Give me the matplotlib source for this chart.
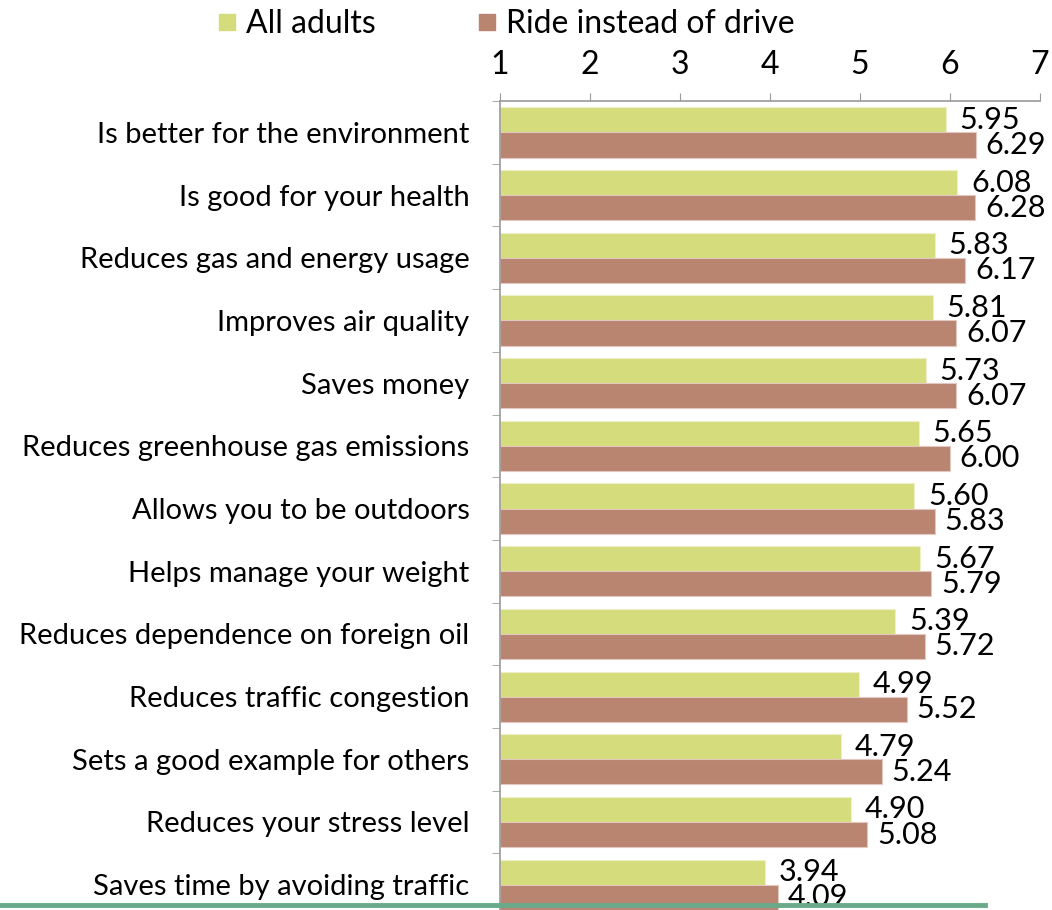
import numpy as np
import matplotlib.pyplot as plt
from matplotlib.lines import Line2D

plt.rcParams['font.family'] = ['Lato', 'DejaVu Sans']

# Data
categories = [
    "Is better for the environment",
    "Is good for your health",
    "Reduces gas and energy usage",
    "Improves air quality",
    "Saves money",
    "Reduces greenhouse gas emissions",
    "Allows you to be outdoors",
    "Helps manage your weight",
    "Reduces dependence on foreign oil",
    "Reduces traffic congestion",
    "Sets a good example for others",
    "Reduces your stress level",
    "Saves time by avoiding traffic",
]
all_adults = [5.95, 6.08, 5.83, 5.81, 5.73, 5.65, 5.60, 5.67, 5.39, 4.99, 4.79, 4.90, 3.94]
ride_instead = [6.29, 6.28, 6.17, 6.07, 6.07, 6.00, 5.83, 5.79, 5.72, 5.52, 5.24, 5.08, 4.09]
series_names = ["All adults", "Ride instead of drive"]
x_ticks = [1, 2, 3, 4, 5, 6, 7]

green = '#d4dc7c'
brown = '#b98470'
spine_col = '#9a9a9a'

fig = plt.figure(figsize=(10.52, 9.10), dpi=100)
ax = fig.add_axes([0.4753, -0.0066, 0.5133, 0.8955])

y = np.arange(len(categories))
h = 0.4
ax.barh(y - h / 2, np.array(all_adults) - 1, height=h, left=1, color=green,
        edgecolor='#eef0c8', linewidth=0.8)
ax.barh(y + h / 2, np.array(ride_instead) - 1, height=h, left=1, color=brown,
        edgecolor='#e2c8be', linewidth=0.8)

for yi, v in zip(y, all_adults):
    ax.annotate(f"{v:.2f}", (v, yi - h / 2), xytext=(10, 0), textcoords='offset points',
                va='center', ha='left', fontsize=22)
for yi, v in zip(y, ride_instead):
    ax.annotate(f"{v:.2f}", (v, yi + h / 2), xytext=(7, 0), textcoords='offset points',
                va='center', ha='left', fontsize=22)

ax.set_xlim(1, 7)
ax.set_ylim(len(categories) - 0.5, -0.5)
ax.xaxis.tick_top()
ax.set_xticks(x_ticks)
ax.set_xticklabels([str(t) for t in x_ticks])
ax.tick_params(axis='x', length=6, color=spine_col, labelsize=23, pad=9)

ax.set_yticks(y)
ax.set_yticklabels(categories)
ax.set_yticks(np.arange(-0.5, len(categories), 1), minor=True)
ax.tick_params(axis='y', which='major', length=0, labelsize=21, pad=22)
ax.tick_params(axis='y', which='minor', length=6, color=spine_col)

for s in ['right', 'bottom']:
    ax.spines[s].set_visible(False)
for s in ['top', 'left']:
    ax.spines[s].set_color(spine_col)
    ax.spines[s].set_linewidth(1.2)

handles = [Line2D([], [], marker='s', linestyle='none', markersize=12,
                  markerfacecolor=c, markeredgecolor=c) for c in (green, brown)]
fig.legend(handles, series_names, loc='upper center', bbox_to_anchor=(0.478, 1.022),
           ncol=2, frameon=False, fontsize=23, handletextpad=0.1, columnspacing=3.0,
           handlelength=1.0)

# green rule along the bottom
fig.add_artist(Line2D([0, 0.936], [0.0055, 0.0055], color='#6aaa8a', linewidth=3.5,
                      transform=fig.transFigure))

fig.savefig('out.png', dpi=100)
